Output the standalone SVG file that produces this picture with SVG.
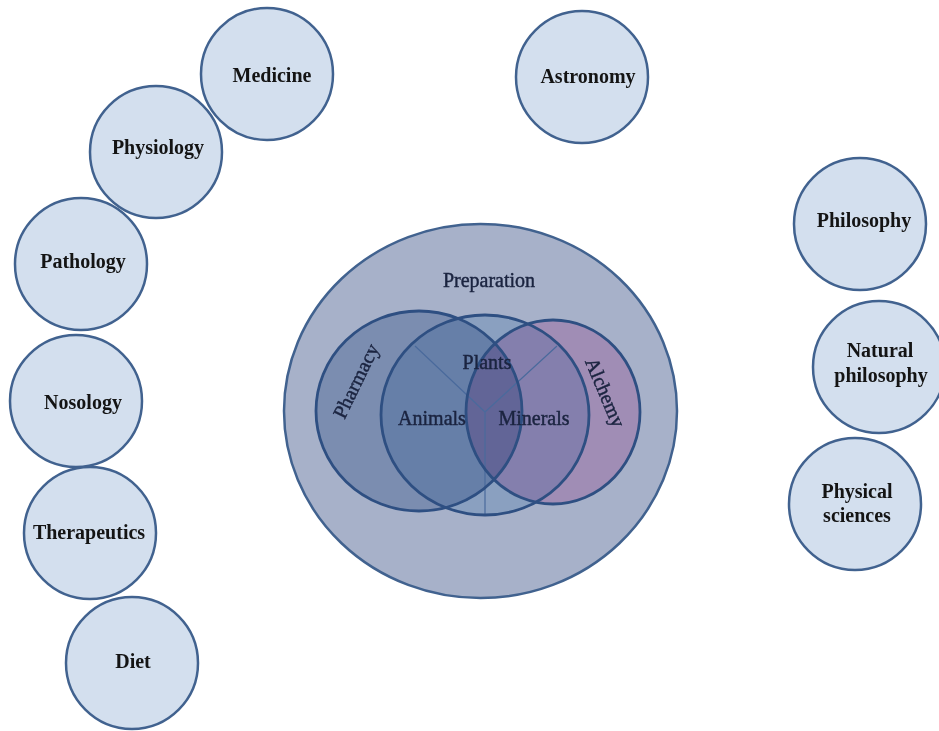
<svg xmlns="http://www.w3.org/2000/svg" width="939" height="731" viewBox="0 0 939 731">
  <style>
    .topic { fill: #d3dfee; stroke: #41628f; stroke-width: 2.5; }
    .topic-label { font-family: "Liberation Serif", "DejaVu Serif", serif; font-weight: bold; font-size: 20px; fill: #141414; text-anchor: middle; }
    .venn-label { font-family: "Liberation Serif", "DejaVu Serif", serif; font-size: 20px; fill: #1b2440; stroke: #1b2440; stroke-width: 0.45; text-anchor: middle; }
    .venn-fill { mix-blend-mode: multiply; stroke: none; }
    .venn-edge { fill: none; stroke: #2e4f82; stroke-width: 2.8; }
    .divider { stroke: #4a6a9c; stroke-width: 1.2; fill: none; }
  </style>

  <rect width="939" height="731" fill="#ffffff"/>

  <!-- Medicine column -->
  <g id="medicine"><circle class="topic" cx="267" cy="74" r="66"/><text class="topic-label" x="272" y="82">Medicine</text></g>
  <g id="physiology"><circle class="topic" cx="156" cy="152" r="66"/><text class="topic-label" x="158" y="154">Physiology</text></g>
  <g id="pathology"><circle class="topic" cx="81" cy="264" r="66"/><text class="topic-label" x="83" y="268">Pathology</text></g>
  <g id="nosology"><circle class="topic" cx="76" cy="401" r="66"/><text class="topic-label" x="83" y="409">Nosology</text></g>
  <g id="therapeutics"><circle class="topic" cx="90" cy="533" r="66"/><text class="topic-label" x="89" y="539">Therapeutics</text></g>
  <g id="diet"><circle class="topic" cx="132" cy="663" r="66"/><text class="topic-label" x="133" y="668">Diet</text></g>

  <!-- Astronomy -->
  <g id="astronomy"><circle class="topic" cx="582" cy="77" r="66"/><text class="topic-label" x="588" y="83">Astronomy</text></g>

  <!-- Philosophy column -->
  <g id="philosophy"><circle class="topic" cx="860" cy="224" r="66"/><text class="topic-label" x="864" y="227">Philosophy</text></g>
  <g id="natural-philosophy"><circle class="topic" cx="879" cy="367" r="66"/>
    <text class="topic-label" x="880" y="357">Natural</text>
    <text class="topic-label" x="881" y="382">philosophy</text></g>
  <g id="physical-sciences"><circle class="topic" cx="855" cy="504" r="66"/>
    <text class="topic-label" x="857" y="498">Physical</text>
    <text class="topic-label" x="857" y="522">sciences</text></g>

  <!-- Preparation with the three-way Venn -->
  <g id="preparation">
    <ellipse cx="480.5" cy="411" rx="196.5" ry="187" fill="#a7b1c9" stroke="#41628f" stroke-width="2.5"/>
    <text class="venn-label" x="489" y="287">Preparation</text>
  </g>

  <g id="venn">
    <ellipse class="venn-fill" cx="419" cy="411" rx="103" ry="100" fill="#bccbdf"/>
    <ellipse class="venn-fill" cx="485" cy="415" rx="104" ry="100" fill="#d3e6f4"/>
    <ellipse class="venn-fill" cx="553" cy="412" rx="87" ry="92" fill="#f4cbe6"/>
    <path class="divider" d="M485 412 L415 346 M485 412 L557 346 M485 412 L485 515"/>
    <ellipse class="venn-edge" cx="419" cy="411" rx="103" ry="100"/>
    <ellipse class="venn-edge" cx="485" cy="415" rx="104" ry="100"/>
    <ellipse class="venn-edge" cx="553" cy="412" rx="87" ry="92"/>
  </g>

  <g id="pharmacy"><text class="venn-label" transform="translate(362 384) rotate(-64)">Pharmacy</text></g>
  <g id="plants"><text class="venn-label" x="487" y="369">Plants</text></g>
  <g id="animals"><text class="venn-label" x="432" y="425">Animals</text></g>
  <g id="minerals"><text class="venn-label" x="534" y="425">Minerals</text></g>
  <g id="alchemy"><text class="venn-label" transform="translate(599 395) rotate(67)">Alchemy</text></g>
</svg>
